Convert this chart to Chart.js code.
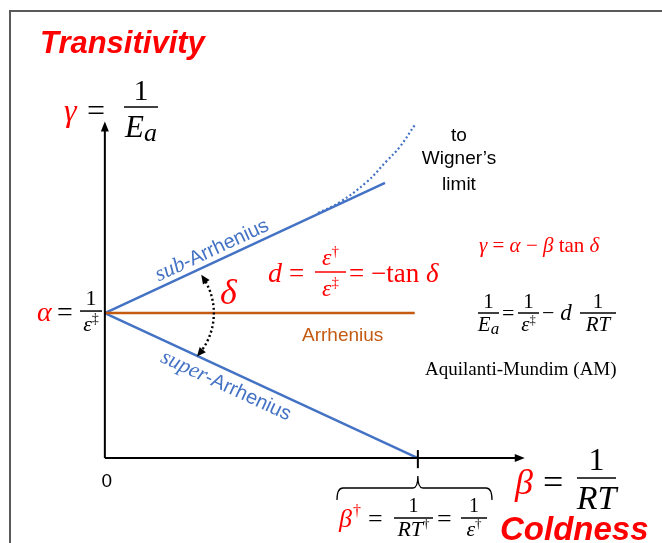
<!DOCTYPE html>
<html>
<head>
<meta charset="utf-8">
<script src="https://cdn.jsdelivr.net/npm/chart.js@4.4.1/dist/chart.umd.min.js"></script>
<style>
  html, body { margin: 0; padding: 0; background: #fff; }
  canvas { display: block; }
</style>
</head>
<body>
<canvas id="myChart" width="662" height="543"></canvas>
<script>
// values in diagram units: beta = 1/RT on x, gamma = 1/Ea on y
const alpha = 1;          // gamma intercept 1/eps‡
const betaDagger = 1;     // 1/eps†

const axisX = [0, 1.332];
const axisY = [0, 2.30];

const arrheniusBeta = [0, 0.99];
const arrheniusGamma = [1, 1];

const subBeta = [0, 0.895];
const subGamma = [1, 1.897];

const superBeta = [0, 1];
const superGamma = [1, 0];

// dotted bend towards Wigner's limit
const wignerBeta = [0.681, 0.751, 0.837, 0.901, 0.942, 0.99];
const wignerGamma = [1.69, 1.765, 1.905, 2.05, 2.145, 2.297];

const blue = '#4472C4';
const orange = '#C55A11';
const red = '#FF0000';

function pts(xs, ys) {
    return xs.map((v, i) => ({ x: v, y: ys[i] }));
}

function line(data, color, width, dash) {
    return {
        data: data,
        showLine: true,
        borderColor: color,
        borderWidth: width,
        borderDash: dash || [],
        pointRadius: 0,
        tension: 0,
        fill: false
    };
}

const serif = '"Liberation Serif", "Times New Roman", serif';
const sans = '"Liberation Sans", Arial, sans-serif';
const I = s => `italic ${s}px ${serif}`;
const R = s => `${s}px ${serif}`;
const A = s => `${s}px ${sans}`;

// draw a row of text pieces left to right
function run(ctx, x, y, parts, color) {
    let cx = x;
    parts.forEach(p => {
        ctx.font = p.f;
        ctx.fillStyle = p.c || color || '#000';
        cx += p.dx || 0;
        ctx.fillText(p.t, cx, y + (p.dy || 0));
        cx += ctx.measureText(p.t).width;
    });
    return cx;
}

function width(ctx, parts) {
    let w = 0;
    parts.forEach(p => { ctx.font = p.f; w += ctx.measureText(p.t).width + (p.dx || 0); });
    return w;
}

function frac(ctx, x0, x1, yBar, num, den, color, nGap, dGap) {
    ctx.strokeStyle = color || '#000';
    ctx.lineWidth = 1.5;
    ctx.setLineDash([]);
    ctx.beginPath();
    ctx.moveTo(x0, yBar);
    ctx.lineTo(x1, yBar);
    ctx.stroke();
    const mid = (x0 + x1) / 2;
    run(ctx, mid - width(ctx, num) / 2, yBar - nGap, num, color);
    run(ctx, mid - width(ctx, den) / 2, yBar + dGap, den, color);
}

const overlay = {
    id: 'overlay',
    afterDatasetsDraw(chart) {
        const ctx = chart.ctx;
        const xs = chart.scales.x, ys = chart.scales.y;
        const X = v => xs.getPixelForValue(v);
        const Y = v => ys.getPixelForValue(v);
        ctx.save();
        ctx.textBaseline = 'alphabetic';
        ctx.textAlign = 'left';

        // frame
        ctx.strokeStyle = '#5a5a5a';
        ctx.lineWidth = 2;
        ctx.beginPath();
        ctx.moveTo(10, 543);
        ctx.lineTo(10, 11);
        ctx.lineTo(662, 11);
        ctx.stroke();

        // axis arrowheads
        ctx.fillStyle = '#000';
        const ox = X(0), oy = Y(0);
        const ty = Y(axisY[1]), tx = X(axisX[1]);
        ctx.beginPath();
        ctx.moveTo(ox, ty - 3);
        ctx.lineTo(ox - 4, ty + 7);
        ctx.lineTo(ox + 4, ty + 7);
        ctx.closePath();
        ctx.fill();
        ctx.beginPath();
        ctx.moveTo(tx + 3, oy);
        ctx.lineTo(tx - 7, oy - 4);
        ctx.lineTo(tx - 7, oy + 4);
        ctx.closePath();
        ctx.fill();

        // brace under beta†
        const bx = X(betaDagger);
        ctx.strokeStyle = '#000';
        ctx.lineWidth = 1.3;
        ctx.beginPath();
        ctx.moveTo(337, 500);
        ctx.quadraticCurveTo(337, 488, 343, 488);
        ctx.lineTo(bx - 5, 488);
        ctx.quadraticCurveTo(bx, 488, bx, 476);
        ctx.quadraticCurveTo(bx, 488, bx + 5, 488);
        ctx.lineTo(486, 488);
        ctx.quadraticCurveTo(492, 488, 492, 500);
        ctx.stroke();

        // delta arc with arrows
        const cx = X(0) + 45, cy = Y(alpha), r = 64;
        const a0 = -34 * Math.PI / 180, a1 = 40 * Math.PI / 180;
        ctx.setLineDash([2, 2.6]);
        ctx.lineWidth = 2.4;
        ctx.beginPath();
        ctx.arc(cx, cy, r, a0 + 0.08, a1 - 0.08);
        ctx.stroke();
        ctx.setLineDash([]);
        function head(a, dir) {
            const px = cx + r * Math.cos(a), py = cy + r * Math.sin(a);
            const tx2 = dir * -Math.sin(a), ty2 = dir * Math.cos(a);
            const nx = -ty2, ny = tx2;
            ctx.beginPath();
            ctx.moveTo(px + tx2 * 3, py + ty2 * 3);
            ctx.lineTo(px - tx2 * 6 + nx * 4, py - ty2 * 6 + ny * 4);
            ctx.lineTo(px - tx2 * 6 - nx * 4, py - ty2 * 6 - ny * 4);
            ctx.closePath();
            ctx.fill();
        }
        head(a0, -1);
        head(a1, 1);

        // titles
        ctx.fillStyle = red;
        ctx.font = `italic bold 31px ${sans}`;
        ctx.fillText('Transitivity', 40, 53);
        ctx.font = `italic bold 33px ${sans}`;
        ctx.fillText('Coldness', 500, 540);

        // gamma = 1/Ea
        run(ctx, 64, 121, [{ t: 'γ', f: I(32), c: red }]);
        run(ctx, 87, 121, [{ t: '=', f: R(32) }]);
        frac(ctx, 124, 158, 107,
            [{ t: '1', f: R(30) }],
            [{ t: 'E', f: I(31) }, { t: 'a', f: I(26), dy: 4 }], '#000', 7, 30);

        // alpha = 1/eps‡
        const ay = Y(alpha);
        run(ctx, 37, ay + 8, [{ t: 'α', f: I(28), c: red }]);
        run(ctx, 57, ay + 8, [{ t: '=', f: R(28) }]);
        frac(ctx, 80, 102, ay - 2,
            [{ t: '1', f: R(22) }],
            [{ t: 'ε', f: I(22) }, { t: '‡', f: R(14), dy: -8 }], '#000', 6, 20);

        // origin
        ctx.font = A(19);
        ctx.fillStyle = '#000';
        ctx.textAlign = 'center';
        ctx.fillText('0', X(0) + 2, 487);
        ctx.textAlign = 'left';

        // beta = 1/RT
        run(ctx, 515, 494, [{ t: 'β', f: I(36), c: red }]);
        run(ctx, 543, 494, [{ t: '=', f: R(36) }]);
        frac(ctx, 577, 616, 478,
            [{ t: '1', f: R(32) }],
            [{ t: 'RT', f: I(34) }], '#000', 8, 31);

        // beta† = 1/RT† = 1/eps†
        run(ctx, 339, 527, [{ t: 'β', f: I(26), c: red }, { t: '†', f: R(16), c: red, dy: -11, dx: 1 }]);
        run(ctx, 368, 527, [{ t: '=', f: R(26) }]);
        frac(ctx, 394, 433, 518,
            [{ t: '1', f: R(20) }],
            [{ t: 'RT', f: I(22) }, { t: '†', f: R(13), dy: -8 }], '#000', 6, 18);
        run(ctx, 437, 527, [{ t: '=', f: R(26) }]);
        frac(ctx, 461, 487, 518,
            [{ t: '1', f: R(20) }],
            [{ t: 'ε', f: I(22) }, { t: '†', f: R(13), dy: -8 }], '#000', 6, 18);

        // to Wigner's limit
        ctx.font = A(19);
        ctx.fillStyle = '#000';
        ctx.textAlign = 'center';
        ctx.fillText('to', 459, 141);
        ctx.fillText('Wigner’s', 459, 164);
        ctx.fillText('limit', 459, 190);
        ctx.textAlign = 'left';

        // rotated line labels
        const ang = Math.atan2(Y(subGamma[1]) - Y(subGamma[0]), X(subBeta[1]) - X(subBeta[0]));
        const subStart = 0.18;
        ctx.save();
        ctx.translate(X(subStart), Y(alpha + subStart * (subGamma[1] - subGamma[0]) / (subBeta[1] - subBeta[0])));
        ctx.rotate(ang);
        run(ctx, 0, -6, [{ t: 'sub', f: I(22) }, { t: '-Arrhenius', f: A(20) }], blue);
        ctx.restore();

        const ang2 = Math.atan2(Y(superGamma[1]) - Y(superGamma[0]), X(superBeta[1]) - X(superBeta[0]));
        const supStart = 0.22;
        ctx.save();
        ctx.translate(X(supStart), Y(alpha + supStart * (superGamma[1] - superGamma[0]) / (superBeta[1] - superBeta[0])));
        ctx.rotate(ang2);
        run(ctx, -6, 21, [{ t: 'super', f: I(22) }, { t: '-Arrhenius', f: A(20) }], blue);
        ctx.restore();

        // delta and d
        run(ctx, 220, 304, [{ t: 'δ', f: I(36), c: red }]);
        run(ctx, 268, 282, [{ t: 'd', f: I(28) }], red);
        run(ctx, 289, 282, [{ t: '=', f: R(27) }], red);
        frac(ctx, 315, 346, 272,
            [{ t: 'ε', f: I(24) }, { t: '†', f: R(15), dy: -9 }],
            [{ t: 'ε', f: I(24) }, { t: '‡', f: R(15), dy: -9 }], red, 7, 24);
        run(ctx, 349, 282, [
            { t: '= ', f: R(27) }, { t: '−', f: R(27) }, { t: 'tan ', f: R(27) }, { t: 'δ', f: I(27) }
        ], red);

        // Arrhenius label
        ctx.font = A(19);
        ctx.fillStyle = orange;
        ctx.fillText('Arrhenius', 302, 341);

        // gamma = alpha - beta tan delta
        run(ctx, 479, 252, [
            { t: 'γ', f: I(21) }, { t: ' = ', f: R(21) }, { t: 'α', f: I(21) }, { t: ' − ', f: R(21) },
            { t: 'β', f: I(21) }, { t: ' tan ', f: R(21) }, { t: 'δ', f: I(21) }
        ], red);

        // AM relation
        frac(ctx, 478, 499, 313,
            [{ t: '1', f: R(21) }],
            [{ t: 'E', f: I(21) }, { t: 'a', f: I(17), dy: 3 }], '#000', 5, 18);
        run(ctx, 502, 320, [{ t: '=', f: R(22) }]);
        frac(ctx, 518, 539, 313,
            [{ t: '1', f: R(21) }],
            [{ t: 'ε', f: I(21) }, { t: '‡', f: R(12), dy: -7 }], '#000', 5, 18);
        run(ctx, 542, 320, [{ t: '−', f: R(22) }, { t: ' d', f: I(23) }]);
        frac(ctx, 580, 616, 313,
            [{ t: '1', f: R(21) }],
            [{ t: 'RT', f: I(21) }], '#000', 5, 18);

        ctx.font = R(19);
        ctx.fillStyle = '#000';
        ctx.fillText('Aquilanti-Mundim (AM)', 425, 375);

        ctx.restore();
    }
};

const config = {
    type: 'scatter',
    data: {
        datasets: [
            line(pts([axisX[0], axisX[1]], [0, 0]), '#000', 2),
            line(pts([0, 0], [axisY[0], axisY[1]]), '#000', 2),
            line(pts([betaDagger, betaDagger], [-0.07, 0.055]), '#000', 2),
            line(pts(arrheniusBeta, arrheniusGamma), orange, 2.5),
            line(pts(subBeta, subGamma), blue, 2.5),
            line(pts(superBeta, superGamma), blue, 2.5),
            Object.assign(line(pts(wignerBeta, wignerGamma), blue, 2.2, [2, 2.5]), { tension: 0.4 })
        ]
    },
    options: {
        responsive: false,
        animation: false,
        layout: { padding: 0 },
        plugins: {
            legend: { display: false },
            tooltip: { enabled: false }
        },
        scales: {
            x: { type: 'linear', display: false, min: -0.335, max: 1.78 },
            y: { type: 'linear', display: false, min: -0.586, max: 3.159 }
        }
    },
    plugins: [overlay]
};

const myChart = new Chart(document.getElementById('myChart'), config);
</script>
</body>
</html>
